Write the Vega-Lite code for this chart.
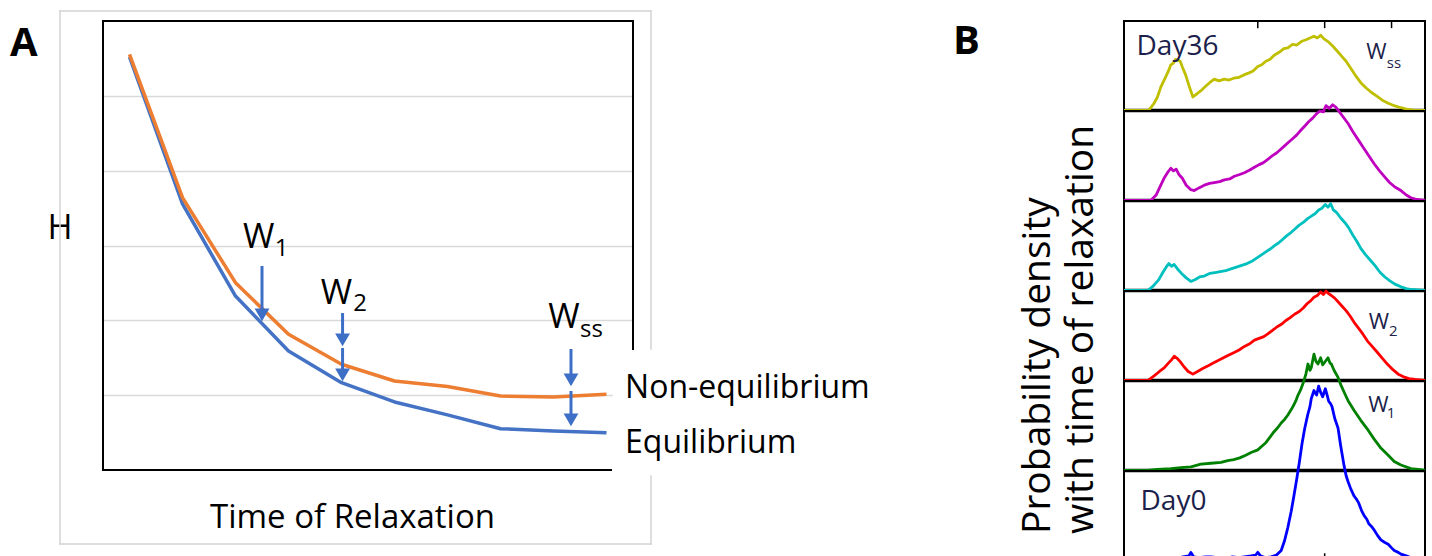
{
  "$schema": "https://vega.github.io/schema/vega-lite/v6.json",
  "padding": {"left": 9, "top": 9, "right": 0, "bottom": 0},
  "background": "white",
  "bounds": "flush",
  "spacing": 491,
  "resolve": {"scale": {"color": "independent"}},
  "config": {
    "view": {"stroke": null},
    "font": "Open Sans",
    "axis": {"grid": false, "domain": false, "ticks": false, "labels": false}
  },
  "datasets": {
    "A": [
      {"kind": "box", "x": 9.62, "x2": 13.6, "y": -0.08, "y2": 1.617},
      {"kind": "gray", "x": -0.811, "x2": 10.34, "y": 6.134, "y2": 6.134},
      {"kind": "gray", "x": -0.811, "x2": -0.811, "y": 6.134, "y2": -0.989},
      {"kind": "gray", "x": -0.811, "x2": 10.34, "y": -0.989, "y2": -0.989},
      {"kind": "gray", "x": 10.34, "x2": 10.34, "y": 6.134, "y2": 1.617},
      {"kind": "gray", "x": 10.34, "x2": 10.34, "y": -0.08, "y2": -0.989},
      {"kind": "frame", "x": 0, "x2": 10, "y": 6, "y2": 6},
      {"kind": "frame", "x": 0, "x2": 0, "y": 6, "y2": 0},
      {"kind": "frame", "x": 0, "x2": 9.585, "y": 0, "y2": 0},
      {"kind": "frame", "x": 10, "x2": 10, "y": 6, "y2": 1.617},
      {"kind": "line", "series": "Equilibrium", "x": 0.5, "y": 5.519},
      {"kind": "line", "series": "Equilibrium", "x": 1.5, "y": 3.555},
      {"kind": "line", "series": "Equilibrium", "x": 2.5, "y": 2.325},
      {"kind": "line", "series": "Equilibrium", "x": 3.5, "y": 1.59},
      {"kind": "line", "series": "Equilibrium", "x": 4.5, "y": 1.167},
      {"kind": "line", "series": "Equilibrium", "x": 5.5, "y": 0.909},
      {"kind": "line", "series": "Equilibrium", "x": 6.5, "y": 0.737},
      {"kind": "line", "series": "Equilibrium", "x": 7.5, "y": 0.552},
      {"kind": "line", "series": "Equilibrium", "x": 8.5, "y": 0.521},
      {"kind": "line", "series": "Equilibrium", "x": 9.5, "y": 0.498},
      {"kind": "line", "series": "Non-equilibrium", "x": 0.5, "y": 5.553},
      {"kind": "line", "series": "Non-equilibrium", "x": 1.5, "y": 3.639},
      {"kind": "line", "series": "Non-equilibrium", "x": 2.5, "y": 2.503},
      {"kind": "line", "series": "Non-equilibrium", "x": 3.5, "y": 1.813},
      {"kind": "line", "series": "Non-equilibrium", "x": 4.5, "y": 1.413},
      {"kind": "line", "series": "Non-equilibrium", "x": 5.5, "y": 1.189},
      {"kind": "line", "series": "Non-equilibrium", "x": 6.5, "y": 1.117},
      {"kind": "line", "series": "Non-equilibrium", "x": 7.5, "y": 0.989},
      {"kind": "line", "series": "Non-equilibrium", "x": 8.5, "y": 0.976},
      {"kind": "line", "series": "Non-equilibrium", "x": 9.5, "y": 1.012},
      {"kind": "shaft", "x": 3.0, "x2": 3.0, "y": 2.726, "y2": 2.11},
      {"kind": "shaft", "x": 4.52, "x2": 4.52, "y": 2.098, "y2": 1.77},
      {"kind": "shaft", "x": 4.52, "x2": 4.52, "y": 1.63, "y2": 1.3},
      {"kind": "shaft", "x": 8.83, "x2": 8.83, "y": 1.617, "y2": 1.24},
      {"kind": "shaft", "x": 8.83, "x2": 8.83, "y": 1.056, "y2": 0.7},
      {"kind": "head", "x": 3.0, "y": 2.073},
      {"kind": "head", "x": 4.52, "y": 1.739},
      {"kind": "head", "x": 4.52, "y": 1.271},
      {"kind": "head", "x": 8.83, "y": 1.204},
      {"kind": "head", "x": 8.83, "y": 0.67},
      {"kind": "w", "x": 2.64, "y": 2.967, "text": "W"},
      {"kind": "w", "x": 4.11, "y": 2.218, "text": "W"},
      {"kind": "w", "x": 8.4, "y": 1.898, "text": "W"},
      {"kind": "sub", "x": 3.24, "y": 2.86, "text": "1"},
      {"kind": "sub", "x": 4.72, "y": 2.125, "text": "2"},
      {"kind": "sub", "x": 9.0, "y": 1.777, "text": "ss"},
      {"kind": "leg", "x": 9.85, "y": 0.966, "text": "Non-equilibrium"},
      {"kind": "leg", "x": 9.85, "y": 0.227, "text": "Equilibrium"},
      {"kind": "letter", "x": -1.755, "y": 5.533, "text": "A"},
      {"kind": "letter", "x": 16.04, "y": 5.559, "text": "B"}
    ],
    "B": [
      {"panel": 1, "kind": "base", "x": 0, "x2": 4.5, "v": 0},
      {"panel": 2, "kind": "base", "x": 0, "x2": 4.5, "v": 0},
      {"panel": 3, "kind": "base", "x": 0, "x2": 4.5, "v": 0},
      {"panel": 4, "kind": "base", "x": 0, "x2": 4.5, "v": 0},
      {"panel": 5, "kind": "base", "x": 0, "x2": 4.5, "v": 0},
      {"panel": 6, "kind": "base", "x": 0, "x2": 4.5, "v": 0},
      {"panel": 1, "kind": "tick", "x": 2, "v": 1, "v2": 0.92},
      {"panel": 1, "kind": "tick", "x": 3, "v": 1, "v2": 0.92},
      {"panel": 1, "kind": "tick", "x": 4, "v": 1, "v2": 0.92},
      {"panel": 6, "kind": "tick", "x": 3, "v": 0, "v2": 0.08},
      {"panel": 6, "kind": "yt", "x": -1.29, "v": 0.295, "text": "Probability density"},
      {"panel": 6, "kind": "yt", "x": -0.65, "v": 0.295, "text": "with time of relaxation"},
      {"panel": 1, "kind": "day", "x": 0.187, "v": 0.615, "text": "Day36"},
      {"panel": 6, "kind": "day", "x": 0.247, "v": 0.56, "text": "Day0"},
      {"panel": 1, "kind": "w", "x": 3.62, "v": 0.58, "text": "W"},
      {"panel": 1, "kind": "sub", "x": 3.93, "v": 0.47, "text": "ss"},
      {"panel": 4, "kind": "w", "x": 3.66, "v": 0.58, "text": "W"},
      {"panel": 4, "kind": "sub", "x": 3.96, "v": 0.5, "text": "2"},
      {"panel": 5, "kind": "w", "x": 3.65, "v": 0.65, "text": "W"},
      {"panel": 5, "kind": "sub", "x": 3.93, "v": 0.59, "text": "1"},

      {"panel": 1, "kind": "c", "x": 0, "v": 0}, {"panel": 1, "kind": "c", "x": 0.2, "v": 0}, {"panel": 1, "kind": "c", "x": 0.37, "v": 0}, {"panel": 1, "kind": "c", "x": 0.45, "v": 0.08}, {"panel": 1, "kind": "c", "x": 0.5, "v": 0.15}, {"panel": 1, "kind": "c", "x": 0.55, "v": 0.26}, {"panel": 1, "kind": "c", "x": 0.62, "v": 0.37}, {"panel": 1, "kind": "c", "x": 0.67, "v": 0.45}, {"panel": 1, "kind": "c", "x": 0.7, "v": 0.51}, {"panel": 1, "kind": "c", "x": 0.74, "v": 0.53}, {"panel": 1, "kind": "c", "x": 0.77, "v": 0.57}, {"panel": 1, "kind": "c", "x": 0.81, "v": 0.56}, {"panel": 1, "kind": "c", "x": 0.84, "v": 0.55}, {"panel": 1, "kind": "c", "x": 0.88, "v": 0.47}, {"panel": 1, "kind": "c", "x": 0.92, "v": 0.4}, {"panel": 1, "kind": "c", "x": 0.97, "v": 0.28}, {"panel": 1, "kind": "c", "x": 1.03, "v": 0.15}, {"panel": 1, "kind": "c", "x": 1.08, "v": 0.18}, {"panel": 1, "kind": "c", "x": 1.15, "v": 0.22}, {"panel": 1, "kind": "c", "x": 1.22, "v": 0.27}, {"panel": 1, "kind": "c", "x": 1.28, "v": 0.31}, {"panel": 1, "kind": "c", "x": 1.35, "v": 0.35}, {"panel": 1, "kind": "c", "x": 1.42, "v": 0.33}, {"panel": 1, "kind": "c", "x": 1.5, "v": 0.35}, {"panel": 1, "kind": "c", "x": 1.57, "v": 0.34}, {"panel": 1, "kind": "c", "x": 1.64, "v": 0.36}, {"panel": 1, "kind": "c", "x": 1.72, "v": 0.37}, {"panel": 1, "kind": "c", "x": 1.8, "v": 0.4}, {"panel": 1, "kind": "c", "x": 1.87, "v": 0.42}, {"panel": 1, "kind": "c", "x": 1.93, "v": 0.44}, {"panel": 1, "kind": "c", "x": 2.0, "v": 0.49}, {"panel": 1, "kind": "c", "x": 2.06, "v": 0.51}, {"panel": 1, "kind": "c", "x": 2.12, "v": 0.55}, {"panel": 1, "kind": "c", "x": 2.18, "v": 0.57}, {"panel": 1, "kind": "c", "x": 2.25, "v": 0.62}, {"panel": 1, "kind": "c", "x": 2.32, "v": 0.65}, {"panel": 1, "kind": "c", "x": 2.39, "v": 0.69}, {"panel": 1, "kind": "c", "x": 2.45, "v": 0.7}, {"panel": 1, "kind": "c", "x": 2.52, "v": 0.74}, {"panel": 1, "kind": "c", "x": 2.58, "v": 0.73}, {"panel": 1, "kind": "c", "x": 2.65, "v": 0.77}, {"panel": 1, "kind": "c", "x": 2.72, "v": 0.79}, {"panel": 1, "kind": "c", "x": 2.78, "v": 0.81}, {"panel": 1, "kind": "c", "x": 2.84, "v": 0.83}, {"panel": 1, "kind": "c", "x": 2.89, "v": 0.81}, {"panel": 1, "kind": "c", "x": 2.94, "v": 0.84}, {"panel": 1, "kind": "c", "x": 2.99, "v": 0.8}, {"panel": 1, "kind": "c", "x": 3.05, "v": 0.77}, {"panel": 1, "kind": "c", "x": 3.12, "v": 0.72}, {"panel": 1, "kind": "c", "x": 3.18, "v": 0.67}, {"panel": 1, "kind": "c", "x": 3.25, "v": 0.61}, {"panel": 1, "kind": "c", "x": 3.32, "v": 0.55}, {"panel": 1, "kind": "c", "x": 3.4, "v": 0.46}, {"panel": 1, "kind": "c", "x": 3.47, "v": 0.38}, {"panel": 1, "kind": "c", "x": 3.54, "v": 0.31}, {"panel": 1, "kind": "c", "x": 3.62, "v": 0.25}, {"panel": 1, "kind": "c", "x": 3.7, "v": 0.2}, {"panel": 1, "kind": "c", "x": 3.78, "v": 0.16}, {"panel": 1, "kind": "c", "x": 3.87, "v": 0.11}, {"panel": 1, "kind": "c", "x": 3.95, "v": 0.08}, {"panel": 1, "kind": "c", "x": 4.05, "v": 0.05}, {"panel": 1, "kind": "c", "x": 4.14, "v": 0.03}, {"panel": 1, "kind": "c", "x": 4.25, "v": 0.01}, {"panel": 1, "kind": "c", "x": 4.35, "v": 0}, {"panel": 1, "kind": "c", "x": 4.5, "v": 0},

      {"panel": 2, "kind": "c", "x": 0, "v": 0}, {"panel": 2, "kind": "c", "x": 0.4, "v": 0}, {"panel": 2, "kind": "c", "x": 0.48, "v": 0.06}, {"panel": 2, "kind": "c", "x": 0.55, "v": 0.17}, {"panel": 2, "kind": "c", "x": 0.6, "v": 0.25}, {"panel": 2, "kind": "c", "x": 0.65, "v": 0.31}, {"panel": 2, "kind": "c", "x": 0.7, "v": 0.36}, {"panel": 2, "kind": "c", "x": 0.74, "v": 0.33}, {"panel": 2, "kind": "c", "x": 0.78, "v": 0.35}, {"panel": 2, "kind": "c", "x": 0.82, "v": 0.29}, {"panel": 2, "kind": "c", "x": 0.87, "v": 0.25}, {"panel": 2, "kind": "c", "x": 0.93, "v": 0.17}, {"panel": 2, "kind": "c", "x": 1.0, "v": 0.12}, {"panel": 2, "kind": "c", "x": 1.05, "v": 0.11}, {"panel": 2, "kind": "c", "x": 1.12, "v": 0.14}, {"panel": 2, "kind": "c", "x": 1.2, "v": 0.17}, {"panel": 2, "kind": "c", "x": 1.28, "v": 0.19}, {"panel": 2, "kind": "c", "x": 1.35, "v": 0.2}, {"panel": 2, "kind": "c", "x": 1.43, "v": 0.21}, {"panel": 2, "kind": "c", "x": 1.5, "v": 0.23}, {"panel": 2, "kind": "c", "x": 1.58, "v": 0.24}, {"panel": 2, "kind": "c", "x": 1.65, "v": 0.27}, {"panel": 2, "kind": "c", "x": 1.73, "v": 0.29}, {"panel": 2, "kind": "c", "x": 1.8, "v": 0.31}, {"panel": 2, "kind": "c", "x": 1.88, "v": 0.34}, {"panel": 2, "kind": "c", "x": 1.95, "v": 0.37}, {"panel": 2, "kind": "c", "x": 2.02, "v": 0.4}, {"panel": 2, "kind": "c", "x": 2.08, "v": 0.42}, {"panel": 2, "kind": "c", "x": 2.15, "v": 0.46}, {"panel": 2, "kind": "c", "x": 2.22, "v": 0.5}, {"panel": 2, "kind": "c", "x": 2.28, "v": 0.53}, {"panel": 2, "kind": "c", "x": 2.34, "v": 0.57}, {"panel": 2, "kind": "c", "x": 2.4, "v": 0.61}, {"panel": 2, "kind": "c", "x": 2.46, "v": 0.65}, {"panel": 2, "kind": "c", "x": 2.52, "v": 0.69}, {"panel": 2, "kind": "c", "x": 2.58, "v": 0.73}, {"panel": 2, "kind": "c", "x": 2.65, "v": 0.79}, {"panel": 2, "kind": "c", "x": 2.7, "v": 0.83}, {"panel": 2, "kind": "c", "x": 2.76, "v": 0.88}, {"panel": 2, "kind": "c", "x": 2.82, "v": 0.92}, {"panel": 2, "kind": "c", "x": 2.88, "v": 0.97}, {"panel": 2, "kind": "c", "x": 2.93, "v": 1.0}, {"panel": 2, "kind": "c", "x": 2.98, "v": 0.99}, {"panel": 2, "kind": "c", "x": 3.02, "v": 1.06}, {"panel": 2, "kind": "c", "x": 3.07, "v": 1.03}, {"panel": 2, "kind": "c", "x": 3.12, "v": 1.07}, {"panel": 2, "kind": "c", "x": 3.17, "v": 1.04}, {"panel": 2, "kind": "c", "x": 3.22, "v": 0.99}, {"panel": 2, "kind": "c", "x": 3.28, "v": 0.93}, {"panel": 2, "kind": "c", "x": 3.35, "v": 0.86}, {"panel": 2, "kind": "c", "x": 3.42, "v": 0.77}, {"panel": 2, "kind": "c", "x": 3.5, "v": 0.68}, {"panel": 2, "kind": "c", "x": 3.58, "v": 0.59}, {"panel": 2, "kind": "c", "x": 3.66, "v": 0.5}, {"panel": 2, "kind": "c", "x": 3.74, "v": 0.41}, {"panel": 2, "kind": "c", "x": 3.82, "v": 0.33}, {"panel": 2, "kind": "c", "x": 3.9, "v": 0.26}, {"panel": 2, "kind": "c", "x": 3.97, "v": 0.2}, {"panel": 2, "kind": "c", "x": 4.05, "v": 0.15}, {"panel": 2, "kind": "c", "x": 4.14, "v": 0.11}, {"panel": 2, "kind": "c", "x": 4.22, "v": 0.06}, {"panel": 2, "kind": "c", "x": 4.29, "v": 0.03}, {"panel": 2, "kind": "c", "x": 4.38, "v": 0.01}, {"panel": 2, "kind": "c", "x": 4.5, "v": 0},

      {"panel": 3, "kind": "c", "x": 0, "v": 0}, {"panel": 3, "kind": "c", "x": 0.36, "v": 0}, {"panel": 3, "kind": "c", "x": 0.44, "v": 0.05}, {"panel": 3, "kind": "c", "x": 0.52, "v": 0.12}, {"panel": 3, "kind": "c", "x": 0.58, "v": 0.2}, {"panel": 3, "kind": "c", "x": 0.63, "v": 0.26}, {"panel": 3, "kind": "c", "x": 0.67, "v": 0.3}, {"panel": 3, "kind": "c", "x": 0.71, "v": 0.27}, {"panel": 3, "kind": "c", "x": 0.75, "v": 0.29}, {"panel": 3, "kind": "c", "x": 0.8, "v": 0.24}, {"panel": 3, "kind": "c", "x": 0.86, "v": 0.19}, {"panel": 3, "kind": "c", "x": 0.93, "v": 0.14}, {"panel": 3, "kind": "c", "x": 1.0, "v": 0.1}, {"panel": 3, "kind": "c", "x": 1.06, "v": 0.12}, {"panel": 3, "kind": "c", "x": 1.13, "v": 0.15}, {"panel": 3, "kind": "c", "x": 1.2, "v": 0.16}, {"panel": 3, "kind": "c", "x": 1.28, "v": 0.19}, {"panel": 3, "kind": "c", "x": 1.36, "v": 0.2}, {"panel": 3, "kind": "c", "x": 1.44, "v": 0.21}, {"panel": 3, "kind": "c", "x": 1.52, "v": 0.22}, {"panel": 3, "kind": "c", "x": 1.6, "v": 0.24}, {"panel": 3, "kind": "c", "x": 1.68, "v": 0.26}, {"panel": 3, "kind": "c", "x": 1.76, "v": 0.28}, {"panel": 3, "kind": "c", "x": 1.84, "v": 0.3}, {"panel": 3, "kind": "c", "x": 1.92, "v": 0.33}, {"panel": 3, "kind": "c", "x": 2.0, "v": 0.37}, {"panel": 3, "kind": "c", "x": 2.06, "v": 0.4}, {"panel": 3, "kind": "c", "x": 2.12, "v": 0.43}, {"panel": 3, "kind": "c", "x": 2.18, "v": 0.46}, {"panel": 3, "kind": "c", "x": 2.25, "v": 0.5}, {"panel": 3, "kind": "c", "x": 2.31, "v": 0.53}, {"panel": 3, "kind": "c", "x": 2.37, "v": 0.57}, {"panel": 3, "kind": "c", "x": 2.43, "v": 0.61}, {"panel": 3, "kind": "c", "x": 2.5, "v": 0.65}, {"panel": 3, "kind": "c", "x": 2.56, "v": 0.69}, {"panel": 3, "kind": "c", "x": 2.62, "v": 0.73}, {"panel": 3, "kind": "c", "x": 2.68, "v": 0.76}, {"panel": 3, "kind": "c", "x": 2.74, "v": 0.8}, {"panel": 3, "kind": "c", "x": 2.8, "v": 0.83}, {"panel": 3, "kind": "c", "x": 2.86, "v": 0.86}, {"panel": 3, "kind": "c", "x": 2.91, "v": 0.9}, {"panel": 3, "kind": "c", "x": 2.96, "v": 0.92}, {"panel": 3, "kind": "c", "x": 3.01, "v": 0.96}, {"panel": 3, "kind": "c", "x": 3.05, "v": 0.93}, {"panel": 3, "kind": "c", "x": 3.09, "v": 0.97}, {"panel": 3, "kind": "c", "x": 3.13, "v": 0.9}, {"panel": 3, "kind": "c", "x": 3.18, "v": 0.87}, {"panel": 3, "kind": "c", "x": 3.24, "v": 0.81}, {"panel": 3, "kind": "c", "x": 3.3, "v": 0.76}, {"panel": 3, "kind": "c", "x": 3.36, "v": 0.7}, {"panel": 3, "kind": "c", "x": 3.42, "v": 0.62}, {"panel": 3, "kind": "c", "x": 3.48, "v": 0.55}, {"panel": 3, "kind": "c", "x": 3.54, "v": 0.47}, {"panel": 3, "kind": "c", "x": 3.61, "v": 0.4}, {"panel": 3, "kind": "c", "x": 3.68, "v": 0.34}, {"panel": 3, "kind": "c", "x": 3.75, "v": 0.28}, {"panel": 3, "kind": "c", "x": 3.83, "v": 0.2}, {"panel": 3, "kind": "c", "x": 3.9, "v": 0.15}, {"panel": 3, "kind": "c", "x": 3.97, "v": 0.11}, {"panel": 3, "kind": "c", "x": 4.05, "v": 0.07}, {"panel": 3, "kind": "c", "x": 4.14, "v": 0.04}, {"panel": 3, "kind": "c", "x": 4.22, "v": 0.02}, {"panel": 3, "kind": "c", "x": 4.3, "v": 0.01}, {"panel": 3, "kind": "c", "x": 4.5, "v": 0},

      {"panel": 4, "kind": "c", "x": 0, "v": 0}, {"panel": 4, "kind": "c", "x": 0.36, "v": 0}, {"panel": 4, "kind": "c", "x": 0.45, "v": 0.05}, {"panel": 4, "kind": "c", "x": 0.53, "v": 0.1}, {"panel": 4, "kind": "c", "x": 0.6, "v": 0.14}, {"panel": 4, "kind": "c", "x": 0.66, "v": 0.19}, {"panel": 4, "kind": "c", "x": 0.71, "v": 0.23}, {"panel": 4, "kind": "c", "x": 0.75, "v": 0.27}, {"panel": 4, "kind": "c", "x": 0.79, "v": 0.25}, {"panel": 4, "kind": "c", "x": 0.84, "v": 0.21}, {"panel": 4, "kind": "c", "x": 0.9, "v": 0.15}, {"panel": 4, "kind": "c", "x": 0.96, "v": 0.1}, {"panel": 4, "kind": "c", "x": 1.03, "v": 0.07}, {"panel": 4, "kind": "c", "x": 1.1, "v": 0.1}, {"panel": 4, "kind": "c", "x": 1.17, "v": 0.13}, {"panel": 4, "kind": "c", "x": 1.25, "v": 0.16}, {"panel": 4, "kind": "c", "x": 1.32, "v": 0.19}, {"panel": 4, "kind": "c", "x": 1.4, "v": 0.22}, {"panel": 4, "kind": "c", "x": 1.48, "v": 0.25}, {"panel": 4, "kind": "c", "x": 1.56, "v": 0.28}, {"panel": 4, "kind": "c", "x": 1.64, "v": 0.31}, {"panel": 4, "kind": "c", "x": 1.72, "v": 0.34}, {"panel": 4, "kind": "c", "x": 1.8, "v": 0.38}, {"panel": 4, "kind": "c", "x": 1.88, "v": 0.41}, {"panel": 4, "kind": "c", "x": 1.95, "v": 0.45}, {"panel": 4, "kind": "c", "x": 2.02, "v": 0.47}, {"panel": 4, "kind": "c", "x": 2.09, "v": 0.49}, {"panel": 4, "kind": "c", "x": 2.15, "v": 0.52}, {"panel": 4, "kind": "c", "x": 2.22, "v": 0.56}, {"panel": 4, "kind": "c", "x": 2.29, "v": 0.6}, {"panel": 4, "kind": "c", "x": 2.36, "v": 0.63}, {"panel": 4, "kind": "c", "x": 2.42, "v": 0.67}, {"panel": 4, "kind": "c", "x": 2.48, "v": 0.7}, {"panel": 4, "kind": "c", "x": 2.55, "v": 0.74}, {"panel": 4, "kind": "c", "x": 2.62, "v": 0.77}, {"panel": 4, "kind": "c", "x": 2.68, "v": 0.81}, {"panel": 4, "kind": "c", "x": 2.74, "v": 0.86}, {"panel": 4, "kind": "c", "x": 2.79, "v": 0.89}, {"panel": 4, "kind": "c", "x": 2.84, "v": 0.93}, {"panel": 4, "kind": "c", "x": 2.89, "v": 0.95}, {"panel": 4, "kind": "c", "x": 2.94, "v": 0.99}, {"panel": 4, "kind": "c", "x": 2.98, "v": 0.96}, {"panel": 4, "kind": "c", "x": 3.02, "v": 1.0}, {"panel": 4, "kind": "c", "x": 3.06, "v": 0.97}, {"panel": 4, "kind": "c", "x": 3.1, "v": 0.95}, {"panel": 4, "kind": "c", "x": 3.15, "v": 0.92}, {"panel": 4, "kind": "c", "x": 3.2, "v": 0.88}, {"panel": 4, "kind": "c", "x": 3.26, "v": 0.83}, {"panel": 4, "kind": "c", "x": 3.32, "v": 0.78}, {"panel": 4, "kind": "c", "x": 3.38, "v": 0.72}, {"panel": 4, "kind": "c", "x": 3.44, "v": 0.65}, {"panel": 4, "kind": "c", "x": 3.5, "v": 0.59}, {"panel": 4, "kind": "c", "x": 3.57, "v": 0.52}, {"panel": 4, "kind": "c", "x": 3.64, "v": 0.44}, {"panel": 4, "kind": "c", "x": 3.71, "v": 0.38}, {"panel": 4, "kind": "c", "x": 3.78, "v": 0.32}, {"panel": 4, "kind": "c", "x": 3.86, "v": 0.25}, {"panel": 4, "kind": "c", "x": 3.94, "v": 0.18}, {"panel": 4, "kind": "c", "x": 4.02, "v": 0.12}, {"panel": 4, "kind": "c", "x": 4.1, "v": 0.07}, {"panel": 4, "kind": "c", "x": 4.18, "v": 0.04}, {"panel": 4, "kind": "c", "x": 4.26, "v": 0.02}, {"panel": 4, "kind": "c", "x": 4.35, "v": 0.01}, {"panel": 4, "kind": "c", "x": 4.5, "v": 0},

      {"panel": 5, "kind": "c", "x": 0, "v": 0}, {"panel": 5, "kind": "c", "x": 0.35, "v": 0}, {"panel": 5, "kind": "c", "x": 0.5, "v": 0.01}, {"panel": 5, "kind": "c", "x": 0.7, "v": 0.02}, {"panel": 5, "kind": "c", "x": 0.85, "v": 0.03}, {"panel": 5, "kind": "c", "x": 1.0, "v": 0.04}, {"panel": 5, "kind": "c", "x": 1.15, "v": 0.07}, {"panel": 5, "kind": "c", "x": 1.3, "v": 0.08}, {"panel": 5, "kind": "c", "x": 1.45, "v": 0.09}, {"panel": 5, "kind": "c", "x": 1.55, "v": 0.11}, {"panel": 5, "kind": "c", "x": 1.64, "v": 0.12}, {"panel": 5, "kind": "c", "x": 1.73, "v": 0.14}, {"panel": 5, "kind": "c", "x": 1.82, "v": 0.17}, {"panel": 5, "kind": "c", "x": 1.9, "v": 0.2}, {"panel": 5, "kind": "c", "x": 2.0, "v": 0.23}, {"panel": 5, "kind": "c", "x": 2.06, "v": 0.27}, {"panel": 5, "kind": "c", "x": 2.12, "v": 0.31}, {"panel": 5, "kind": "c", "x": 2.18, "v": 0.37}, {"panel": 5, "kind": "c", "x": 2.24, "v": 0.43}, {"panel": 5, "kind": "c", "x": 2.3, "v": 0.48}, {"panel": 5, "kind": "c", "x": 2.35, "v": 0.53}, {"panel": 5, "kind": "c", "x": 2.4, "v": 0.57}, {"panel": 5, "kind": "c", "x": 2.45, "v": 0.62}, {"panel": 5, "kind": "c", "x": 2.5, "v": 0.68}, {"panel": 5, "kind": "c", "x": 2.53, "v": 0.72}, {"panel": 5, "kind": "c", "x": 2.57, "v": 0.78}, {"panel": 5, "kind": "c", "x": 2.6, "v": 0.84}, {"panel": 5, "kind": "c", "x": 2.64, "v": 0.9}, {"panel": 5, "kind": "c", "x": 2.68, "v": 0.98}, {"panel": 5, "kind": "c", "x": 2.72, "v": 1.08}, {"panel": 5, "kind": "c", "x": 2.75, "v": 1.19}, {"panel": 5, "kind": "c", "x": 2.78, "v": 1.12}, {"panel": 5, "kind": "c", "x": 2.8, "v": 1.15}, {"panel": 5, "kind": "c", "x": 2.84, "v": 1.3}, {"panel": 5, "kind": "c", "x": 2.87, "v": 1.22}, {"panel": 5, "kind": "c", "x": 2.9, "v": 1.19}, {"panel": 5, "kind": "c", "x": 2.94, "v": 1.26}, {"panel": 5, "kind": "c", "x": 2.97, "v": 1.18}, {"panel": 5, "kind": "c", "x": 3.0, "v": 1.21}, {"panel": 5, "kind": "c", "x": 3.05, "v": 1.26}, {"panel": 5, "kind": "c", "x": 3.08, "v": 1.2}, {"panel": 5, "kind": "c", "x": 3.1, "v": 1.19}, {"panel": 5, "kind": "c", "x": 3.14, "v": 1.12}, {"panel": 5, "kind": "c", "x": 3.2, "v": 1.04}, {"panel": 5, "kind": "c", "x": 3.24, "v": 0.96}, {"panel": 5, "kind": "c", "x": 3.3, "v": 0.86}, {"panel": 5, "kind": "c", "x": 3.35, "v": 0.78}, {"panel": 5, "kind": "c", "x": 3.44, "v": 0.67}, {"panel": 5, "kind": "c", "x": 3.54, "v": 0.56}, {"panel": 5, "kind": "c", "x": 3.65, "v": 0.45}, {"panel": 5, "kind": "c", "x": 3.74, "v": 0.35}, {"panel": 5, "kind": "c", "x": 3.84, "v": 0.25}, {"panel": 5, "kind": "c", "x": 3.95, "v": 0.17}, {"panel": 5, "kind": "c", "x": 4.04, "v": 0.1}, {"panel": 5, "kind": "c", "x": 4.14, "v": 0.06}, {"panel": 5, "kind": "c", "x": 4.29, "v": 0.02}, {"panel": 5, "kind": "c", "x": 4.4, "v": 0.01}, {"panel": 5, "kind": "c", "x": 4.5, "v": 0},

      {"panel": 6, "kind": "c", "x": 0.35, "v": 0.02}, {"panel": 6, "kind": "c", "x": 0.45, "v": 0.03}, {"panel": 6, "kind": "c", "x": 0.55, "v": 0.03}, {"panel": 6, "kind": "c", "x": 0.65, "v": 0.02}, {"panel": 6, "kind": "c", "x": 0.78, "v": 0.02}, {"panel": 6, "kind": "c", "x": 0.88, "v": 0.04}, {"panel": 6, "kind": "c", "x": 0.97, "v": 0.05}, {"panel": 6, "kind": "c", "x": 1.0, "v": 0.09}, {"panel": 6, "kind": "c", "x": 1.04, "v": 0.04}, {"panel": 6, "kind": "c", "x": 1.12, "v": 0.03}, {"panel": 6, "kind": "c", "x": 1.22, "v": 0.04}, {"panel": 6, "kind": "c", "x": 1.3, "v": 0.04}, {"panel": 6, "kind": "c", "x": 1.4, "v": 0.03}, {"panel": 6, "kind": "c", "x": 1.52, "v": 0.02}, {"panel": 6, "kind": "c", "x": 1.62, "v": 0.04}, {"panel": 6, "kind": "c", "x": 1.72, "v": 0.03}, {"panel": 6, "kind": "c", "x": 1.8, "v": 0.04}, {"panel": 6, "kind": "c", "x": 1.9, "v": 0.05}, {"panel": 6, "kind": "c", "x": 1.97, "v": 0.06}, {"panel": 6, "kind": "c", "x": 2.0, "v": 0.09}, {"panel": 6, "kind": "c", "x": 2.04, "v": 0.05}, {"panel": 6, "kind": "c", "x": 2.12, "v": 0.03}, {"panel": 6, "kind": "c", "x": 2.2, "v": 0.04}, {"panel": 6, "kind": "c", "x": 2.28, "v": 0.06}, {"panel": 6, "kind": "c", "x": 2.35, "v": 0.11}, {"panel": 6, "kind": "c", "x": 2.4, "v": 0.22}, {"panel": 6, "kind": "c", "x": 2.45, "v": 0.37}, {"panel": 6, "kind": "c", "x": 2.5, "v": 0.55}, {"panel": 6, "kind": "c", "x": 2.54, "v": 0.72}, {"panel": 6, "kind": "c", "x": 2.58, "v": 0.9}, {"panel": 6, "kind": "c", "x": 2.62, "v": 1.09}, {"panel": 6, "kind": "c", "x": 2.66, "v": 1.3}, {"panel": 6, "kind": "c", "x": 2.7, "v": 1.47}, {"panel": 6, "kind": "c", "x": 2.75, "v": 1.64}, {"panel": 6, "kind": "c", "x": 2.78, "v": 1.72}, {"panel": 6, "kind": "c", "x": 2.8, "v": 1.81}, {"panel": 6, "kind": "c", "x": 2.84, "v": 1.9}, {"panel": 6, "kind": "c", "x": 2.86, "v": 1.87}, {"panel": 6, "kind": "c", "x": 2.88, "v": 1.85}, {"panel": 6, "kind": "c", "x": 2.91, "v": 1.95}, {"panel": 6, "kind": "c", "x": 2.94, "v": 1.88}, {"panel": 6, "kind": "c", "x": 2.97, "v": 1.83}, {"panel": 6, "kind": "c", "x": 3.01, "v": 1.92}, {"panel": 6, "kind": "c", "x": 3.04, "v": 1.84}, {"panel": 6, "kind": "c", "x": 3.06, "v": 1.78}, {"panel": 6, "kind": "c", "x": 3.09, "v": 1.75}, {"panel": 6, "kind": "c", "x": 3.11, "v": 1.72}, {"panel": 6, "kind": "c", "x": 3.15, "v": 1.59}, {"panel": 6, "kind": "c", "x": 3.2, "v": 1.48}, {"panel": 6, "kind": "c", "x": 3.24, "v": 1.28}, {"panel": 6, "kind": "c", "x": 3.29, "v": 1.06}, {"panel": 6, "kind": "c", "x": 3.32, "v": 0.95}, {"panel": 6, "kind": "c", "x": 3.35, "v": 0.88}, {"panel": 6, "kind": "c", "x": 3.39, "v": 0.8}, {"panel": 6, "kind": "c", "x": 3.44, "v": 0.72}, {"panel": 6, "kind": "c", "x": 3.48, "v": 0.68}, {"panel": 6, "kind": "c", "x": 3.51, "v": 0.64}, {"panel": 6, "kind": "c", "x": 3.55, "v": 0.56}, {"panel": 6, "kind": "c", "x": 3.59, "v": 0.5}, {"panel": 6, "kind": "c", "x": 3.63, "v": 0.46}, {"panel": 6, "kind": "c", "x": 3.66, "v": 0.41}, {"panel": 6, "kind": "c", "x": 3.7, "v": 0.38}, {"panel": 6, "kind": "c", "x": 3.74, "v": 0.34}, {"panel": 6, "kind": "c", "x": 3.79, "v": 0.28}, {"panel": 6, "kind": "c", "x": 3.84, "v": 0.23}, {"panel": 6, "kind": "c", "x": 3.9, "v": 0.2}, {"panel": 6, "kind": "c", "x": 3.95, "v": 0.18}, {"panel": 6, "kind": "c", "x": 4.0, "v": 0.14}, {"panel": 6, "kind": "c", "x": 4.04, "v": 0.11}, {"panel": 6, "kind": "c", "x": 4.1, "v": 0.09}, {"panel": 6, "kind": "c", "x": 4.14, "v": 0.07}, {"panel": 6, "kind": "c", "x": 4.22, "v": 0.05}, {"panel": 6, "kind": "c", "x": 4.29, "v": 0.03}, {"panel": 6, "kind": "c", "x": 4.37, "v": 0.02}, {"panel": 6, "kind": "c", "x": 4.44, "v": 0.02}
    ]
  },
  "hconcat": [
    {
      "width": 530,
      "height": 449,
      "data": {"name": "A"},
      "layer": [
        {
          "transform": [{"filter": "datum.kind === 'box'"}],
          "mark": {"type": "rect", "fill": "white"},
          "encoding": {
            "x": {"field": "x", "type": "quantitative", "title": "Time of Relaxation",
                  "scale": {"domain": [0, 10], "nice": false, "zero": false},
                  "axis": {"grid": false, "domain": false, "ticks": false, "labels": false,
                           "titleFont": "Open Sans", "titleFontSize": 33, "titleFontWeight": "normal", "titleColor": "black",
                           "titleX": 249, "titleY": 57, "titleAlign": "center", "titleBaseline": "alphabetic"}},
            "x2": {"field": "x2"},
            "y": {"field": "y", "type": "quantitative", "title": "H",
                  "scale": {"domain": [0, 6], "nice": false, "zero": false},
                  "axis": {"grid": true, "values": [1, 2, 3, 4, 5], "gridColor": "#d9d9d9", "gridWidth": 1.5,
                           "domain": false, "ticks": false, "labels": false,
                           "titleFont": "Open Sans", "titleFontSize": 34, "titleFontWeight": "normal", "titleColor": "black",
                           "titleAngle": 0, "titleX": -43.5, "titleY": 217.3, "titleAlign": "center", "titleBaseline": "alphabetic"}},
            "y2": {"field": "y2"}
          }
        },
        {
          "transform": [{"filter": "datum.kind === 'gray'"}],
          "mark": {"type": "rule", "color": "#d3d3d3", "strokeWidth": 1.5, "strokeCap": "square"},
          "encoding": {
            "x": {"field": "x", "type": "quantitative", "title": "Time of Relaxation"},
            "x2": {"field": "x2"},
            "y": {"field": "y", "type": "quantitative", "title": "H"},
            "y2": {"field": "y2"}
          }
        },
        {
          "transform": [{"filter": "datum.kind === 'frame'"}],
          "mark": {"type": "rule", "color": "black", "strokeWidth": 2, "strokeCap": "square"},
          "encoding": {
            "x": {"field": "x", "type": "quantitative", "title": "Time of Relaxation"},
            "x2": {"field": "x2"},
            "y": {"field": "y", "type": "quantitative", "title": "H"},
            "y2": {"field": "y2"}
          }
        },
        {
          "transform": [{"filter": "datum.kind === 'line'"}],
          "mark": {"type": "line", "strokeWidth": 3.5, "strokeJoin": "round"},
          "encoding": {
            "x": {"field": "x", "type": "quantitative", "title": "Time of Relaxation"},
            "y": {"field": "y", "type": "quantitative", "title": "H"},
            "color": {"field": "series", "type": "nominal",
                      "scale": {"domain": ["Equilibrium", "Non-equilibrium"], "range": ["#4472c4", "#ed7d31"]},
                      "legend": null}
          }
        },
        {
          "transform": [{"filter": "datum.kind === 'shaft'"}],
          "mark": {"type": "rule", "color": "#3d6fc7", "strokeWidth": 3},
          "encoding": {
            "x": {"field": "x", "type": "quantitative", "title": "Time of Relaxation"},
            "x2": {"field": "x2"},
            "y": {"field": "y", "type": "quantitative", "title": "H"},
            "y2": {"field": "y2"}
          }
        },
        {
          "transform": [{"filter": "datum.kind === 'head'"}],
          "mark": {"type": "point", "shape": "triangle-down", "filled": true, "size": 220, "color": "#3d6fc7", "opacity": 1, "strokeWidth": 0},
          "encoding": {
            "x": {"field": "x", "type": "quantitative", "title": "Time of Relaxation"},
            "y": {"field": "y", "type": "quantitative", "title": "H"}
          }
        },
        {
          "transform": [{"filter": "datum.kind === 'w'"}],
          "mark": {"type": "text", "font": "Open Sans", "fontSize": 34, "align": "left", "baseline": "alphabetic", "color": "black"},
          "encoding": {
            "x": {"field": "x", "type": "quantitative", "title": "Time of Relaxation"},
            "y": {"field": "y", "type": "quantitative", "title": "H"},
            "text": {"field": "text"}
          }
        },
        {
          "transform": [{"filter": "datum.kind === 'sub'"}],
          "mark": {"type": "text", "font": "Open Sans", "fontSize": 24, "align": "left", "baseline": "alphabetic", "color": "black"},
          "encoding": {
            "x": {"field": "x", "type": "quantitative", "title": "Time of Relaxation"},
            "y": {"field": "y", "type": "quantitative", "title": "H"},
            "text": {"field": "text"}
          }
        },
        {
          "transform": [{"filter": "datum.kind === 'leg'"}],
          "mark": {"type": "text", "font": "Open Sans", "fontSize": 32, "align": "left", "baseline": "alphabetic", "color": "black"},
          "encoding": {
            "x": {"field": "x", "type": "quantitative", "title": "Time of Relaxation"},
            "y": {"field": "y", "type": "quantitative", "title": "H"},
            "text": {"field": "text"}
          }
        },
        {
          "transform": [{"filter": "datum.kind === 'letter'"}],
          "mark": {"type": "text", "font": "Open Sans", "fontSize": 40, "fontWeight": "bold", "align": "left", "baseline": "alphabetic", "color": "black"},
          "encoding": {
            "x": {"field": "x", "type": "quantitative", "title": "Time of Relaxation"},
            "y": {"field": "y", "type": "quantitative", "title": "H"},
            "text": {"field": "text"}
          }
        }
      ]
    },
    {
      "data": {"name": "B"},
      "bounds": "flush",
      "facet": {
        "row": {
          "field": "panel", "type": "ordinal", "sort": "ascending", "title": null,
          "header": {"labels": false, "title": null}
        }
      },
      "spacing": {"row": 0},
      "spec": {
        "width": 301,
        "height": 89.4,
        "view": {"stroke": "black", "strokeWidth": 2},
        "layer": [
          {
            "transform": [{"filter": "datum.kind === 'base'"}],
            "mark": {"type": "rule", "color": "black", "strokeWidth": 3.5},
            "encoding": {
              "x": {"field": "x", "type": "quantitative", "scale": {"domain": [0, 4.5], "nice": false, "zero": false}, "axis": null},
              "x2": {"field": "x2"},
              "y": {"field": "v", "type": "quantitative", "scale": {"domain": [0, 1], "nice": false}, "axis": null}
            }
          },
          {
            "transform": [{"filter": "datum.kind === 'c'"}],
            "mark": {"type": "line", "strokeWidth": 2.8, "strokeJoin": "round"},
            "encoding": {
              "x": {"field": "x", "type": "quantitative", "axis": null},
              "y": {"field": "v", "type": "quantitative", "axis": null},
              "color": {"field": "panel", "type": "nominal",
                        "scale": {"domain": [1, 2, 3, 4, 5, 6], "range": ["#bfbf00", "#bf00bf", "#00bfbf", "#ff0000", "#008000", "#0000ff"]},
                        "legend": null}
            }
          },
          {
            "transform": [{"filter": "datum.kind === 'tick'"}],
            "mark": {"type": "rule", "color": "black", "strokeWidth": 1.5},
            "encoding": {
              "x": {"field": "x", "type": "quantitative", "axis": null},
              "y": {"field": "v", "type": "quantitative", "axis": null},
              "y2": {"field": "v2"}
            }
          },
          {
            "transform": [{"filter": "datum.kind === 'yt'"}],
            "mark": {"type": "text", "font": "Open Sans", "fontSize": 39, "angle": 270, "align": "left", "baseline": "middle", "color": "black"},
            "encoding": {
              "x": {"field": "x", "type": "quantitative", "axis": null},
              "y": {"field": "v", "type": "quantitative", "axis": null},
              "text": {"field": "text"}
            }
          },
          {
            "transform": [{"filter": "datum.kind === 'day'"}],
            "mark": {"type": "text", "font": "Open Sans", "fontSize": 28, "align": "left", "baseline": "alphabetic", "color": "#1c1f4b"},
            "encoding": {
              "x": {"field": "x", "type": "quantitative", "axis": null},
              "y": {"field": "v", "type": "quantitative", "axis": null},
              "text": {"field": "text"}
            }
          },
          {
            "transform": [{"filter": "datum.kind === 'w'"}],
            "mark": {"type": "text", "font": "Open Sans", "fontSize": 22, "align": "left", "baseline": "alphabetic", "color": "#1c1f4b"},
            "encoding": {
              "x": {"field": "x", "type": "quantitative", "axis": null},
              "y": {"field": "v", "type": "quantitative", "axis": null},
              "text": {"field": "text"}
            }
          },
          {
            "transform": [{"filter": "datum.kind === 'sub'"}],
            "mark": {"type": "text", "font": "Open Sans", "fontSize": 15, "align": "left", "baseline": "alphabetic", "color": "#1c1f4b"},
            "encoding": {
              "x": {"field": "x", "type": "quantitative", "axis": null},
              "y": {"field": "v", "type": "quantitative", "axis": null},
              "text": {"field": "text"}
            }
          }
        ]
      }
    }
  ]
}
